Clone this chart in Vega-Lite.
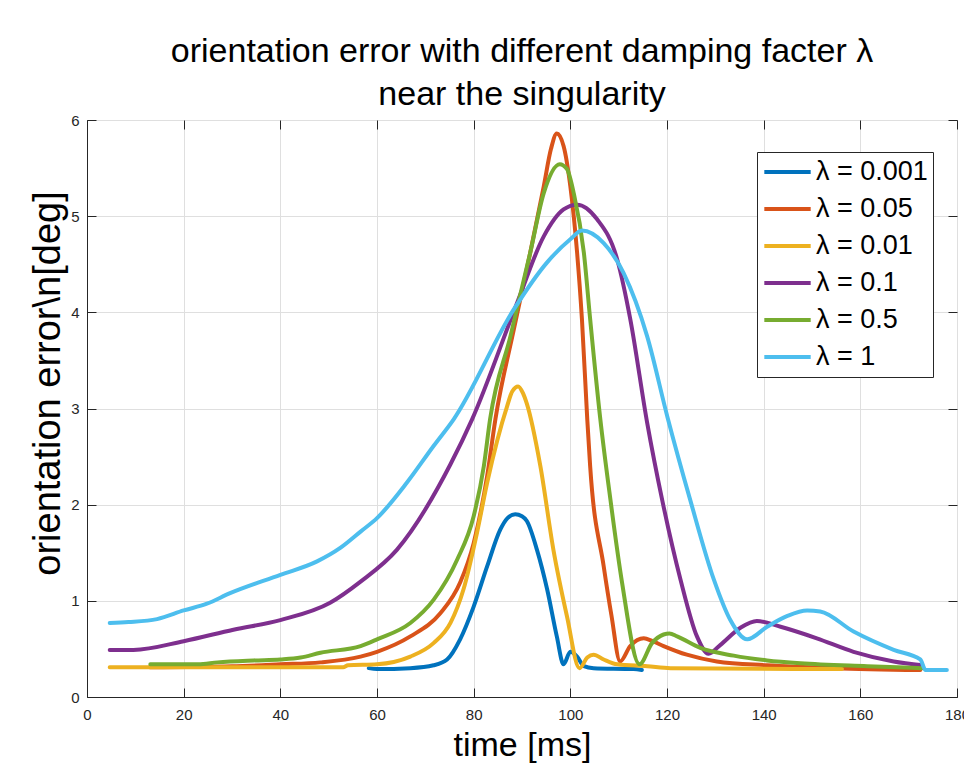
{
  "$schema": "https://vega.github.io/schema/vega-lite/v6.json",
  "width": 870,
  "height": 577,
  "autosize": {"type": "none"},
  "padding": {"left": 87, "top": 120, "right": 7, "bottom": 68},
  "background": "white",
  "title": {
    "text": ["orientation error with different damping facter λ", "near the singularity"],
    "font": "Liberation Sans",
    "fontSize": 34,
    "fontWeight": "normal",
    "color": "#000000",
    "anchor": "middle",
    "frame": "group",
    "lineHeight": 43,
    "offset": 1
  },
  "config": {
    "view": {"stroke": "#262626", "strokeWidth": 1},
    "axis": {
      "labelFont": "Liberation Sans",
      "labelFontSize": 15,
      "labelColor": "#262626",
      "labelFlush": false,
      "titleFont": "Liberation Sans",
      "titleFontWeight": "normal",
      "titleColor": "#000000",
      "domainColor": "#262626",
      "tickColor": "#262626",
      "gridColor": "#dfdfdf",
      "gridWidth": 1
    }
  },
  "datasets": {
    "curves": [
      {"t": 58.3, "e": 0.30, "s": "λ = 0.001"},
      {"t": 60, "e": 0.29, "s": "λ = 0.001"},
      {"t": 66.9, "e": 0.30, "s": "λ = 0.001"},
      {"t": 71.7, "e": 0.33, "s": "λ = 0.001"},
      {"t": 74.5, "e": 0.39, "s": "λ = 0.001"},
      {"t": 77.2, "e": 0.60, "s": "λ = 0.001"},
      {"t": 80, "e": 0.94, "s": "λ = 0.001"},
      {"t": 82.8, "e": 1.36, "s": "λ = 0.001"},
      {"t": 85.5, "e": 1.74, "s": "λ = 0.001"},
      {"t": 87, "e": 1.86, "s": "λ = 0.001"},
      {"t": 88.6, "e": 1.90, "s": "λ = 0.001"},
      {"t": 90, "e": 1.88, "s": "λ = 0.001"},
      {"t": 91, "e": 1.83, "s": "λ = 0.001"},
      {"t": 93.1, "e": 1.53, "s": "λ = 0.001"},
      {"t": 95.2, "e": 1.12, "s": "λ = 0.001"},
      {"t": 97.2, "e": 0.63, "s": "λ = 0.001"},
      {"t": 98.6, "e": 0.34, "s": "λ = 0.001"},
      {"t": 100, "e": 0.47, "s": "λ = 0.001"},
      {"t": 101.4, "e": 0.42, "s": "λ = 0.001"},
      {"t": 102.8, "e": 0.32, "s": "λ = 0.001"},
      {"t": 104.8, "e": 0.30, "s": "λ = 0.001"},
      {"t": 113.1, "e": 0.29, "s": "λ = 0.001"},
      {"t": 114.8, "e": 0.28, "s": "λ = 0.001"},

      {"t": 13, "e": 0.31, "s": "λ = 0.05"},
      {"t": 30, "e": 0.32, "s": "λ = 0.05"},
      {"t": 40, "e": 0.34, "s": "λ = 0.05"},
      {"t": 48.3, "e": 0.36, "s": "λ = 0.05"},
      {"t": 56.6, "e": 0.42, "s": "λ = 0.05"},
      {"t": 60, "e": 0.47, "s": "λ = 0.05"},
      {"t": 66.9, "e": 0.63, "s": "λ = 0.05"},
      {"t": 73.1, "e": 0.87, "s": "λ = 0.05"},
      {"t": 77.2, "e": 1.19, "s": "λ = 0.05"},
      {"t": 80, "e": 1.60, "s": "λ = 0.05"},
      {"t": 82.8, "e": 2.30, "s": "λ = 0.05"},
      {"t": 84.5, "e": 2.89, "s": "λ = 0.05"},
      {"t": 88.3, "e": 3.82, "s": "λ = 0.05"},
      {"t": 91.7, "e": 4.62, "s": "λ = 0.05"},
      {"t": 94.5, "e": 5.31, "s": "λ = 0.05"},
      {"t": 96, "e": 5.70, "s": "λ = 0.05"},
      {"t": 97.2, "e": 5.86, "s": "λ = 0.05"},
      {"t": 98.6, "e": 5.73, "s": "λ = 0.05"},
      {"t": 100, "e": 5.31, "s": "λ = 0.05"},
      {"t": 101.4, "e": 4.62, "s": "λ = 0.05"},
      {"t": 102.4, "e": 3.93, "s": "λ = 0.05"},
      {"t": 103.5, "e": 2.89, "s": "λ = 0.05"},
      {"t": 104.1, "e": 2.40, "s": "λ = 0.05"},
      {"t": 106.9, "e": 1.36, "s": "λ = 0.05"},
      {"t": 108.5, "e": 0.85, "s": "λ = 0.05"},
      {"t": 110.3, "e": 0.37, "s": "λ = 0.05"},
      {"t": 112.4, "e": 0.53, "s": "λ = 0.05"},
      {"t": 115.2, "e": 0.61, "s": "λ = 0.05"},
      {"t": 117, "e": 0.58, "s": "λ = 0.05"},
      {"t": 119.3, "e": 0.53, "s": "λ = 0.05"},
      {"t": 124.1, "e": 0.44, "s": "λ = 0.05"},
      {"t": 130.3, "e": 0.37, "s": "λ = 0.05"},
      {"t": 140.7, "e": 0.33, "s": "λ = 0.05"},
      {"t": 154.5, "e": 0.30, "s": "λ = 0.05"},
      {"t": 172.4, "e": 0.28, "s": "λ = 0.05"},

      {"t": 4.7, "e": 0.31, "s": "λ = 0.01"},
      {"t": 53, "e": 0.31, "s": "λ = 0.01"},
      {"t": 54, "e": 0.33, "s": "λ = 0.01"},
      {"t": 60, "e": 0.34, "s": "λ = 0.01"},
      {"t": 66.9, "e": 0.42, "s": "λ = 0.01"},
      {"t": 71.7, "e": 0.56, "s": "λ = 0.01"},
      {"t": 75.2, "e": 0.77, "s": "λ = 0.01"},
      {"t": 77.9, "e": 1.12, "s": "λ = 0.01"},
      {"t": 80.7, "e": 1.71, "s": "λ = 0.01"},
      {"t": 82.8, "e": 2.23, "s": "λ = 0.01"},
      {"t": 86.9, "e": 3.02, "s": "λ = 0.01"},
      {"t": 88, "e": 3.18, "s": "λ = 0.01"},
      {"t": 89.2, "e": 3.23, "s": "λ = 0.01"},
      {"t": 90.2, "e": 3.16, "s": "λ = 0.01"},
      {"t": 91, "e": 3.05, "s": "λ = 0.01"},
      {"t": 93.8, "e": 2.40, "s": "λ = 0.01"},
      {"t": 96.5, "e": 1.53, "s": "λ = 0.01"},
      {"t": 99.3, "e": 0.84, "s": "λ = 0.01"},
      {"t": 101.9, "e": 0.30, "s": "λ = 0.01"},
      {"t": 103.5, "e": 0.41, "s": "λ = 0.01"},
      {"t": 104.8, "e": 0.44, "s": "λ = 0.01"},
      {"t": 106.9, "e": 0.39, "s": "λ = 0.01"},
      {"t": 109.7, "e": 0.34, "s": "λ = 0.01"},
      {"t": 115.9, "e": 0.32, "s": "λ = 0.01"},
      {"t": 120.7, "e": 0.30, "s": "λ = 0.01"},
      {"t": 156.2, "e": 0.29, "s": "λ = 0.01"},

      {"t": 4.7, "e": 0.49, "s": "λ = 0.1"},
      {"t": 9.6, "e": 0.49, "s": "λ = 0.1"},
      {"t": 20, "e": 0.58, "s": "λ = 0.1"},
      {"t": 30.3, "e": 0.70, "s": "λ = 0.1"},
      {"t": 40, "e": 0.80, "s": "λ = 0.1"},
      {"t": 50.3, "e": 0.98, "s": "λ = 0.1"},
      {"t": 56.6, "e": 1.20, "s": "λ = 0.1"},
      {"t": 64.1, "e": 1.53, "s": "λ = 0.1"},
      {"t": 75.2, "e": 2.42, "s": "λ = 0.1"},
      {"t": 79.7, "e": 2.89, "s": "λ = 0.1"},
      {"t": 89, "e": 4.10, "s": "λ = 0.1"},
      {"t": 94.5, "e": 4.79, "s": "λ = 0.1"},
      {"t": 98.6, "e": 5.07, "s": "λ = 0.1"},
      {"t": 101.4, "e": 5.12, "s": "λ = 0.1"},
      {"t": 105.5, "e": 4.97, "s": "λ = 0.1"},
      {"t": 109.7, "e": 4.55, "s": "λ = 0.1"},
      {"t": 112.4, "e": 3.93, "s": "λ = 0.1"},
      {"t": 115.9, "e": 2.85, "s": "λ = 0.1"},
      {"t": 119, "e": 2.05, "s": "λ = 0.1"},
      {"t": 122.8, "e": 1.22, "s": "λ = 0.1"},
      {"t": 126.2, "e": 0.63, "s": "λ = 0.1"},
      {"t": 128.6, "e": 0.45, "s": "λ = 0.1"},
      {"t": 131, "e": 0.54, "s": "λ = 0.1"},
      {"t": 135.2, "e": 0.72, "s": "λ = 0.1"},
      {"t": 138.6, "e": 0.79, "s": "λ = 0.1"},
      {"t": 143.5, "e": 0.73, "s": "λ = 0.1"},
      {"t": 151, "e": 0.61, "s": "λ = 0.1"},
      {"t": 158.6, "e": 0.47, "s": "λ = 0.1"},
      {"t": 166.9, "e": 0.37, "s": "λ = 0.1"},
      {"t": 172.8, "e": 0.33, "s": "λ = 0.1"},

      {"t": 13.1, "e": 0.34, "s": "λ = 0.5"},
      {"t": 23, "e": 0.34, "s": "λ = 0.5"},
      {"t": 27, "e": 0.36, "s": "λ = 0.5"},
      {"t": 34.5, "e": 0.38, "s": "λ = 0.5"},
      {"t": 40, "e": 0.39, "s": "λ = 0.5"},
      {"t": 44.2, "e": 0.41, "s": "λ = 0.5"},
      {"t": 48.3, "e": 0.46, "s": "λ = 0.5"},
      {"t": 56.6, "e": 0.53, "s": "λ = 0.5"},
      {"t": 60, "e": 0.60, "s": "λ = 0.5"},
      {"t": 66.9, "e": 0.77, "s": "λ = 0.5"},
      {"t": 71.7, "e": 1.01, "s": "λ = 0.5"},
      {"t": 76.6, "e": 1.43, "s": "λ = 0.5"},
      {"t": 80, "e": 1.88, "s": "λ = 0.5"},
      {"t": 82.1, "e": 2.40, "s": "λ = 0.5"},
      {"t": 83.4, "e": 2.89, "s": "λ = 0.5"},
      {"t": 87.6, "e": 3.75, "s": "λ = 0.5"},
      {"t": 91.7, "e": 4.62, "s": "λ = 0.5"},
      {"t": 94.5, "e": 5.24, "s": "λ = 0.5"},
      {"t": 97.8, "e": 5.54, "s": "λ = 0.5"},
      {"t": 99.3, "e": 5.49, "s": "λ = 0.5"},
      {"t": 100.7, "e": 5.24, "s": "λ = 0.5"},
      {"t": 102.8, "e": 4.62, "s": "λ = 0.5"},
      {"t": 104.1, "e": 3.93, "s": "λ = 0.5"},
      {"t": 106.2, "e": 2.89, "s": "λ = 0.5"},
      {"t": 108.3, "e": 2.05, "s": "λ = 0.5"},
      {"t": 110.7, "e": 1.19, "s": "λ = 0.5"},
      {"t": 114.3, "e": 0.34, "s": "λ = 0.5"},
      {"t": 116.9, "e": 0.56, "s": "λ = 0.5"},
      {"t": 119.3, "e": 0.65, "s": "λ = 0.5"},
      {"t": 120.5, "e": 0.66, "s": "λ = 0.5"},
      {"t": 122.1, "e": 0.63, "s": "λ = 0.5"},
      {"t": 126.9, "e": 0.51, "s": "λ = 0.5"},
      {"t": 133.8, "e": 0.43, "s": "λ = 0.5"},
      {"t": 140.7, "e": 0.38, "s": "λ = 0.5"},
      {"t": 147.6, "e": 0.35, "s": "λ = 0.5"},
      {"t": 161.4, "e": 0.32, "s": "λ = 0.5"},
      {"t": 172.8, "e": 0.30, "s": "λ = 0.5"},

      {"t": 4.7, "e": 0.77, "s": "λ = 1"},
      {"t": 8.6, "e": 0.78, "s": "λ = 1"},
      {"t": 14.5, "e": 0.81, "s": "λ = 1"},
      {"t": 20, "e": 0.90, "s": "λ = 1"},
      {"t": 24.8, "e": 0.97, "s": "λ = 1"},
      {"t": 29.6, "e": 1.08, "s": "λ = 1"},
      {"t": 40, "e": 1.27, "s": "λ = 1"},
      {"t": 47.6, "e": 1.41, "s": "λ = 1"},
      {"t": 52.4, "e": 1.55, "s": "λ = 1"},
      {"t": 56.6, "e": 1.72, "s": "λ = 1"},
      {"t": 60, "e": 1.86, "s": "λ = 1"},
      {"t": 66.2, "e": 2.23, "s": "λ = 1"},
      {"t": 71.7, "e": 2.61, "s": "λ = 1"},
      {"t": 75.9, "e": 2.89, "s": "λ = 1"},
      {"t": 88.3, "e": 4.03, "s": "λ = 1"},
      {"t": 95.2, "e": 4.52, "s": "λ = 1"},
      {"t": 100, "e": 4.76, "s": "λ = 1"},
      {"t": 102.4, "e": 4.85, "s": "λ = 1"},
      {"t": 106.9, "e": 4.72, "s": "λ = 1"},
      {"t": 111, "e": 4.41, "s": "λ = 1"},
      {"t": 115.9, "e": 3.75, "s": "λ = 1"},
      {"t": 120.1, "e": 2.91, "s": "λ = 1"},
      {"t": 124.8, "e": 2.05, "s": "λ = 1"},
      {"t": 129.7, "e": 1.22, "s": "λ = 1"},
      {"t": 133.1, "e": 0.80, "s": "λ = 1"},
      {"t": 136.6, "e": 0.60, "s": "λ = 1"},
      {"t": 140.7, "e": 0.73, "s": "λ = 1"},
      {"t": 144.8, "e": 0.84, "s": "λ = 1"},
      {"t": 149, "e": 0.90, "s": "λ = 1"},
      {"t": 151.7, "e": 0.89, "s": "λ = 1"},
      {"t": 158.6, "e": 0.68, "s": "λ = 1"},
      {"t": 166.9, "e": 0.49, "s": "λ = 1"},
      {"t": 172.4, "e": 0.39, "s": "λ = 1"},
      {"t": 173.5, "e": 0.28, "s": "λ = 1"},
      {"t": 177.9, "e": 0.28, "s": "λ = 1"}
    ]
  },
  "data": {"name": "curves"},
  "layer": [
    {
      "mark": {"type": "line", "strokeWidth": 4, "strokeJoin": "round", "strokeCap": "round", "interpolate": "monotone"},
      "encoding": {
        "x": {
          "field": "t", "type": "quantitative",
          "scale": {"domain": [0, 180], "nice": false, "zero": false},
          "axis": {"values": [0, 20, 40, 60, 80, 100, 120, 140, 160, 180], "title": "time [ms]", "titleFontSize": 34, "tickSize": -9, "labelPadding": 19, "titlePadding": 6, "grid": true}
        },
        "y": {
          "field": "e", "type": "quantitative",
          "scale": {"domain": [0, 6], "nice": false, "zero": false},
          "axis": {"values": [0, 1, 2, 3, 4, 5, 6], "title": "orientation error\\n[deg]", "titleFontSize": 38, "titleX": -20, "titleY": 263, "titleAngle": -90, "titleAlign": "center", "titleBaseline": "bottom", "tickSize": -9, "labelPadding": 17, "grid": true}
        },
        "color": {
          "field": "s", "type": "nominal", "sort": null,
          "scale": {
            "domain": ["λ = 0.001", "λ = 0.05", "λ = 0.01", "λ = 0.1", "λ = 0.5", "λ = 1"],
            "range": ["#0072BD", "#D95319", "#EDB120", "#7E2F8E", "#77AC30", "#4DBEEE"]
          },
          "legend": {
            "title": null,
            "orient": "none",
            "legendX": 670,
            "legendY": 32,
            "fillColor": "#ffffff",
            "strokeColor": "#262626",
            "padding": 5,
            "cornerRadius": 0,
            "symbolType": "stroke",
            "symbolSize": 2150,
            "symbolStrokeWidth": 4,
            "clipHeight": 30,
            "rowPadding": 7,
            "labelFont": "Liberation Sans",
            "labelFontSize": 27,
            "labelColor": "#000000",
            "labelOffset": 3,
            "labelLimit": 300
          }
        }
      }
    },
    {
      "mark": {"type": "point", "opacity": 0},
      "encoding": {
        "x": {
          "field": "t", "type": "quantitative",
          "scale": {"domain": [0, 180], "nice": false, "zero": false},
          "axis": {"orient": "top", "values": [0, 20, 40, 60, 80, 100, 120, 140, 160, 180], "labels": false, "title": null, "domain": false, "grid": false, "tickSize": -9}
        },
        "y": {
          "field": "e", "type": "quantitative",
          "scale": {"domain": [0, 6], "nice": false, "zero": false},
          "axis": {"orient": "right", "values": [0, 1, 2, 3, 4, 5, 6], "labels": false, "title": null, "domain": false, "grid": false, "tickSize": -9}
        }
      }
    }
  ],
  "resolve": {"scale": {"x": "independent", "y": "independent"}}
}
